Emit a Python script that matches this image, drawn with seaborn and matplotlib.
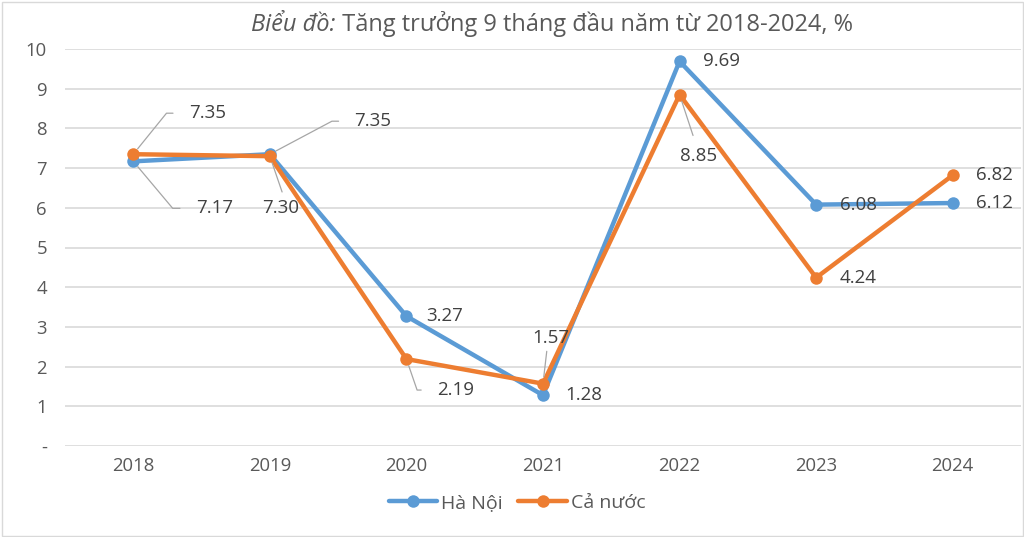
import matplotlib
matplotlib.use('Agg')
import matplotlib.pyplot as plt
import seaborn as sns
import pandas as pd
from matplotlib.lines import Line2D
from matplotlib.patches import Rectangle

# ---- data ----
years = ['2018', '2019', '2020', '2021', '2022', '2023', '2024']
ha_noi = [7.17, 7.35, 3.27, 1.28, 9.69, 6.08, 6.12]
ca_nuoc = [7.35, 7.30, 2.19, 1.57, 8.85, 4.24, 6.82]
series_names = ['Hà Nội', 'Cả nước']
y_ticks = [0, 1, 2, 3, 4, 5, 6, 7, 8, 9, 10]
y_tick_labels = ['-', '1', '2', '3', '4', '5', '6', '7', '8', '9', '10']
title_italic = 'Biểu đồ:'
title_rest = ' Tăng trưởng 9 tháng đầu năm từ 2018-2024, %'

# ---- style ----
sns.set_theme(style='white')
plt.rcParams['font.family'] = ['Open Sans', 'DejaVu Sans']
TXT = '#595959'
LBL = '#404040'
colors = {series_names[0]: '#5B9BD5', series_names[1]: '#ED7D31'}

positions = list(range(len(years)))
df = pd.DataFrame({
    'pos': positions * 2,
    'value': ha_noi + ca_nuoc,
    'series': [series_names[0]] * len(years) + [series_names[1]] * len(years),
})

W, H = 1024, 537
fig = plt.figure(figsize=(W / 100, H / 100), dpi=100)
fig.patch.set_facecolor('white')
ax = fig.add_axes([65 / W, 1 - 446 / H, (1021 - 65) / W, (446 - 49) / H])

sns.lineplot(data=df, x='pos', y='value', hue='series', hue_order=series_names,
             palette=colors, marker='o', markersize=9, markeredgewidth=0,
             linewidth=3.2, ax=ax, legend=False, sort=False, zorder=3)

ax.set_xlim(-0.5, len(years) - 0.5)
ax.set_ylim(0, 10)
ax.set_xticks(positions)
ax.set_xticklabels(years)
ax.set_yticks(y_ticks)
ax.set_yticklabels(y_tick_labels)
ax.set_xlabel('')
ax.set_ylabel('')
ax.yaxis.grid(True, color='#D9D9D9', linewidth=1.2)
ax.xaxis.grid(False)
ax.set_axisbelow(True)
for s in ax.spines.values():
    s.set_visible(False)
ax.tick_params(axis='y', length=0, pad=13, labelsize=13.3, labelcolor=TXT)
ax.tick_params(axis='x', length=0, pad=8, labelsize=13.3, labelcolor=TXT)

# ---- data labels (offsets in pixels, leader style) ----
label_layout = [
    # series, index, dx, dy, leader, angle, relpos, shrinkA
    (0, 0, 81, -47, 'elbow', -50, (0, 0.5), 9),
    (1, 0, 74, 41, 'elbow', 51, (0, 0.5), 9),
    (0, 1, 103, 33, 'elbow', 28, (0, 0.5), 9),
    (1, 1, 11, -52, 'straight', None, (0.6, 1), 3),
    (0, 2, 38, 0, None, None, None, None),
    (1, 2, 49, -31, 'elbow', -71, (0, 0.5), 9),
    (0, 3, 41, 0, None, None, None, None),
    (1, 3, 8, 46, 'straight', None, (0.4, 0), 1),
    (0, 4, 42, 0, None, None, None, None),
    (1, 4, 19, -61, 'straight', None, (0.45, 1), 6),
    (0, 5, 42, 0, None, None, None, None),
    (1, 5, 42, 0, None, None, None, None),
    (0, 6, 42, 0, None, None, None, None),
    (1, 6, 42, 0, None, None, None, None),
]
series_values = [ha_noi, ca_nuoc]
for si, i, dx, dy, leader, ang, rp, shA in label_layout:
    v = series_values[si][i]
    kw = {}
    if leader == 'elbow':
        kw['arrowprops'] = dict(arrowstyle='-', color='#A6A6A6', lw=0.9,
                                shrinkA=shA, shrinkB=5, relpos=rp,
                                connectionstyle=f'angle,angleA=0,angleB={ang},rad=0')
    elif leader == 'straight':
        kw['arrowprops'] = dict(arrowstyle='-', color='#A6A6A6', lw=0.9,
                                shrinkA=shA, shrinkB=5, relpos=rp)
    ax.annotate(f'{v:.2f}', xy=(i, v), xytext=(dx, dy), textcoords='offset pixels',
                ha='center', va='center', fontsize=13.5, color=LBL, zorder=5,
                annotation_clip=False, **kw)

# ---- title (italic + normal parts) ----
t1 = fig.text(0.3, 1 - 31 / H, title_italic, style='italic', fontsize=17,
              color=TXT, va='baseline', ha='left')
t2 = ax.annotate(title_rest, xy=(1, 0), xycoords=t1, va='bottom', ha='left',
                 fontsize=17, color=TXT, annotation_clip=False)
fig.canvas.draw()
r = fig.canvas.get_renderer()
b1 = t1.get_window_extent(r)
b2 = t2.get_window_extent(r)
total = b2.x1 - b1.x0
t1.set_x((552 - total / 2) / W)

# ---- legend ----
handles = [Line2D([], [], color=colors[n], lw=3.2, marker='o', markersize=9,
                  markeredgewidth=0) for n in series_names]
leg = fig.legend(handles, series_names, loc='center', bbox_to_anchor=(517 / W, 1 - 503 / H),
                 ncol=2, frameon=False, fontsize=14, handlelength=2.5,
                 handletextpad=0.2, columnspacing=0.8)
for t in leg.get_texts():
    t.set_color(TXT)

# ---- figure border ----
fig.patches.append(Rectangle((1.5 / W, 1.5 / H), 1 - 3 / W, 1 - 3 / H,
                             transform=fig.transFigure, fill=False,
                             edgecolor='#D9D9D9', lw=1))

fig.savefig('out.png', dpi=100)
